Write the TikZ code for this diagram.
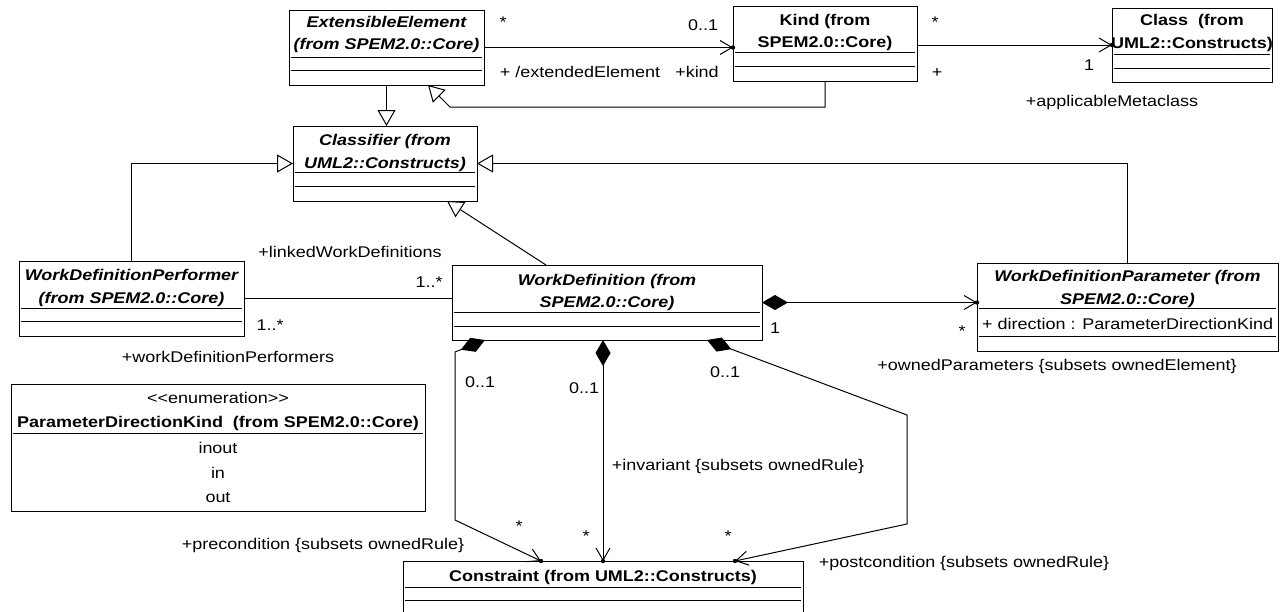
\documentclass[tikz,border=0pt]{standalone}
\usepackage{fontspec}
\setmainfont{Liberation Sans}[FakeStretch=1.16]
\usetikzlibrary{arrows.meta}
\newcommand\lblfont{\fontsize{15.5}{22}\selectfont}
\newcommand\ttlfont{\fontsize{15.5}{22.5}\selectfont\bfseries}
% separator lines inside a class box, given as offsets below its top edge
\newcommand\compartments[2]{%
  \foreach \off in {#2}
    \draw[sepline] ([shift={(2,\off)}]#1.north west) -- ([shift={(-2,\off)}]#1.north east);}
\begin{document}
\begin{tikzpicture}[x=1pt,y=-1pt,
  umlbox/.style={draw, line width=1pt, anchor=north west, inner sep=0pt, outer sep=0pt, fill=white},
  ttl/.style={font=\ttlfont, align=center, inner sep=0pt},
  ittl/.style={font=\ttlfont\itshape, align=center, inner sep=0pt},
  lbl/.style={font=\lblfont, inner sep=0pt, anchor=base},
  sepline/.style={line width=1pt},
  conn/.style={line width=1pt},
  gen/.style={conn, -{Triangle[open, length=16pt, width=18pt, fill=white, line width=1pt]}},
  nav/.style={conn, -{Straight Barb[length=12pt, width=14pt, line width=1pt]}},
  comp/.style={conn, {Diamond[length=26pt, width=15pt]}-{Straight Barb[length=12pt, width=14pt, line width=1pt]}},
]
\useasboundingbox (0,0) rectangle (1282,611);
\fill[white] (0,0) rectangle (1282,611);
\clip (0,0) rectangle (1282,611);

% ---------- classes ----------
\node[umlbox, minimum width=195, minimum height=75] (ee) at (289,10) {};
\compartments{ee}{47,60}
\node[ittl] (eet) at (386.5,34.5) {ExtensibleElement\\(from SPEM2.0::Core)};

\node[umlbox, minimum width=184, minimum height=75] (kind) at (733,6) {};
\compartments{kind}{46,60}
\node[ttl] (kindt) at (825,32.5) {Kind (from\\SPEM2.0::Core)};

\node[umlbox, minimum width=160, minimum height=74] (mc) at (1112,8) {};
\compartments{mc}{46,60}
\node[ttl] (mct) at (1192,33) {Class\ \ (from\\UML2::Constructs)};

\node[umlbox, minimum width=184, minimum height=75] (clf) at (293,126) {};
\compartments{clf}{46,60}
\node[ittl] (clft) at (385,153) {Classifier (from\\UML2::Constructs)};

\node[umlbox, minimum width=225, minimum height=75] (wdp) at (19,261) {};
\compartments{wdp}{47,60}
\node[ittl] (wdpt) at (131.5,288) {WorkDefinitionPerformer\\(from SPEM2.0::Core)};

\node[umlbox, minimum width=310, minimum height=75] (wd) at (452,265) {};
\compartments{wd}{47,61}
\node[ittl] (wdt) at (607,292.5) {WorkDefinition (from\\SPEM2.0::Core)};

\node[umlbox, minimum width=301, minimum height=88] (par) at (977,263) {};
\compartments{par}{45,73}
\node[ittl] (part) at (1127.5,289) {WorkDefinitionParameter (from\\SPEM2.0::Core)};
\node[lbl, anchor=base west] (para) at (982,329) {+ direction : ParameterDirectionKind};

\node[umlbox, minimum width=414, minimum height=127] (enu) at (11,384) {};
\compartments{enu}{49}
\node[lbl] (enus) at (218,403) {<{}<enumeration>{}>};
\node[lbl, font=\ttlfont] (enut) at (218,427) {ParameterDirectionKind\ \ (from SPEM2.0::Core)};
\node[lbl] (enu1) at (218,453) {inout};
\node[lbl] (enu2) at (218,478) {in};
\node[lbl] (enu3) at (218,502) {out};

\node[umlbox, minimum width=400, minimum height=70] (con) at (403,561) {};
\compartments{con}{26,39}
\node[lbl, font=\ttlfont] (cont) at (603,581) {Constraint (from UML2::Constructs)};

% ---------- generalizations ----------
\draw[gen] (ee.south) -- (ee.south |- clf.north);
\draw[gen] (kind.south) -- (kind.south |- 0,107) -- (450,107) -- ([xshift=139]ee.south west);
\draw[gen] (wdp.north) |- (clf.west);
\draw[gen] (par.north) |- (clf.east);
\draw[gen] ([xshift=-61]wd.north) -- ([xshift=62]clf.south);

% ---------- associations ----------
\draw[nav] (ee.east) -- (ee.east -| kind.west) coordinate (d1);
\draw[nav] (kind.east |- mc.west) -- (mc.west) coordinate (d2);
\draw[conn] (wdp.east) -- (wdp.east -| wd.west);
\draw[comp] (wd.east) -- (wd.east -| par.west) coordinate (d3);
\draw[comp] ([xshift=33]wd.south west) -- (455,352) -- (455,520) -- ([xshift=138]con.north west) coordinate (d4);
\draw[comp] (con.north |- wd.south) -- (con.north) coordinate (d5);
\draw[comp] ([xshift=-55]wd.south east) -- (907,415) -- (907,524) -- ([xshift=332]con.north west) coordinate (d6);
\foreach \d in {d1,d2,d3,d4,d5,d6} \fill (\d) circle (2.2);

% ---------- role names and multiplicities ----------
\node[lbl] (l1) at (503,27) {*};
\node[lbl] (l2) at (703,30) {0..1};
\node[lbl] (l3) at (580,77) {+ /extendedElement};
\node[lbl] (l4) at (697,77) {+kind};
\node[lbl] (l5) at (935,27) {*};
\node[lbl] (l6) at (937,77) {+};
\node[lbl] (l7) at (1089,70) {1};
\node[lbl] (l8) at (1112,106) {+applicableMetaclass};
\node[lbl] (l9) at (350,257) {+linkedWorkDefinitions};
\node[lbl] (l10) at (429,287) {1..*};
\node[lbl] (l11) at (270,330) {1..*};
\node[lbl] (l12) at (228,362) {+workDefinitionPerformers};
\node[lbl] (l13) at (775,333) {1};
\node[lbl] (l14) at (962,336) {*};
\node[lbl] (l15) at (1057,370) {+ownedParameters \{subsets ownedElement\}};
\node[lbl] (l16) at (480,387) {0..1};
\node[lbl] (l17) at (584,393) {0..1};
\node[lbl] (l18) at (725,377) {0..1};
\node[lbl] (l19) at (738,470) {+invariant \{subsets ownedRule\}};
\node[lbl] (l20) at (519,531) {*};
\node[lbl] (l21) at (586,541) {*};
\node[lbl] (l22) at (728,541) {*};
\node[lbl] (l23) at (323,549) {+precondition \{subsets ownedRule\}};
\node[lbl] (l24) at (964,567) {+postcondition \{subsets ownedRule\}};
\end{tikzpicture}
\end{document}
